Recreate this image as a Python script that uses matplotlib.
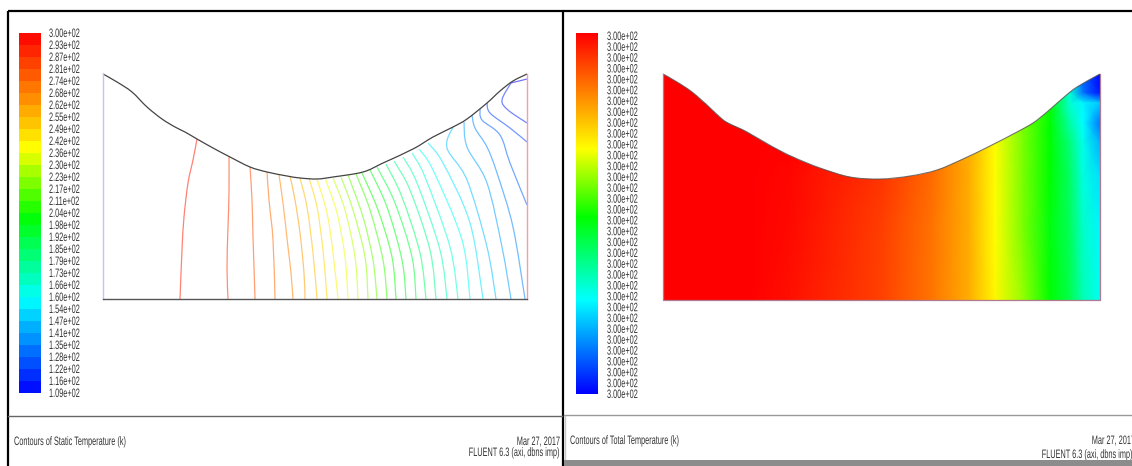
import numpy as np
import matplotlib
matplotlib.use('Agg')
import matplotlib.pyplot as plt
import matplotlib.patheffects as pe
from matplotlib.colors import LinearSegmentedColormap
from matplotlib.path import Path
from matplotlib.patches import PathPatch
from matplotlib.transforms import Affine2D

plt.rcParams['font.family'] = ['Liberation Sans']

# legend labels, left and right panel
static_labels = ['3.00e+02', '2.93e+02', '2.87e+02', '2.81e+02', '2.74e+02', '2.68e+02', '2.62e+02',
                 '2.55e+02', '2.49e+02', '2.42e+02', '2.36e+02', '2.30e+02', '2.23e+02', '2.17e+02',
                 '2.11e+02', '2.04e+02', '1.98e+02', '1.92e+02', '1.85e+02', '1.79e+02', '1.73e+02',
                 '1.66e+02', '1.60e+02', '1.54e+02', '1.47e+02', '1.41e+02', '1.35e+02', '1.28e+02',
                 '1.22e+02', '1.16e+02', '1.09e+02']
total_labels = ['3.00e+02'] * 34

# wall profile, picture pixels
wall_left_x = [103, 117, 132, 147, 162, 175, 185, 197, 213, 230, 250, 267, 287, 300, 317, 333, 363,
               383, 413, 433, 453, 467, 487, 500, 513, 527]
wall_left_y = [74, 82, 92, 107, 119, 127, 132, 139, 148, 157, 167, 172, 176, 178, 179, 177, 172,
               163, 149, 137, 127, 119, 103, 91, 81, 74]
wall_right_x = [663, 677, 692, 707, 722, 730, 747, 773, 793, 820, 850, 880, 910, 937, 963, 990, 1017,
                1033, 1047, 1063, 1077, 1100]
wall_right_y = [74, 82, 92, 105, 119, 124, 132, 147, 157, 168, 177, 179, 176, 170, 159, 146, 132,
                123, 112, 98, 87, 74]

# static temperature contours, one per level below the top one (x, y in picture pixels)
contours = [
    [(197, 139), (193, 160), (188, 183), (184, 217), (182, 250), (180, 299)],
    [(229, 157), (229, 193), (228, 227), (227, 267), (228, 299)],
    [(250, 167), (252, 200), (253, 237), (254, 267), (255, 299)],
    [(267, 172), (269, 200), (273, 240), (275, 299)],
    [(279, 175), (283, 203), (288, 247), (291, 273), (293, 299)],
    [(290, 176), (295, 200), (300, 233), (304, 273), (305, 299)],
    [(300, 178), (307, 207), (313, 253), (317, 299)],
    [(309, 178), (317, 207), (323, 250), (327, 299)],
    [(317, 179), (327, 213), (333, 253), (338, 299)],
    [(325, 178), (337, 213), (345, 257), (348, 299)],
    [(333, 178), (345, 210), (355, 257), (358, 299)],
    [(341, 177), (353, 210), (365, 257), (368, 299)],
    [(348, 175), (363, 217), (373, 260), (377, 299)],
    [(356, 174), (370, 210), (383, 260), (387, 299)],
    [(362, 173), (378, 210), (392, 257), (396, 299)],
    [(370, 170), (387, 207), (402, 260), (406, 299)],
    [(377, 167), (395, 203), (412, 257), (416, 299)],
    [(386, 164), (402, 197), (420, 253), (426, 299)],
    [(394, 161), (410, 190), (430, 250), (436, 299)],
    [(403, 157), (417, 183), (440, 250), (447, 299)],
    [(412, 153), (425, 177), (450, 247), (458, 299)],
    [(419, 149), (433, 170), (462, 240), (470, 299)],
    [(428, 143), (443, 163), (470, 223), (483, 299)],
    [(453, 127), (447, 148), (467, 180), (487, 247), (496, 299)],
    [(464, 122), (467, 147), (487, 183), (502, 247), (511, 299)],
    [(472, 115), (475, 128), (487, 147), (497, 173), (513, 227), (525, 299)],
    [(480, 109), (482, 120), (500, 135), (510, 163), (527, 205)],
    [(487, 103), (490, 113), (510, 128), (527, 142)],
    [(511, 83), (502, 100), (508, 110), (527, 123)],
    [(511, 83), (527, 79)],
]

# total temperature field, colour fraction per station and height
field_x = [663, 750, 790, 883, 933, 970, 995, 1023, 1050, 1070, 1083, 1100]
field_y = [73, 93, 103, 123, 143, 177, 227, 300]
field_t = [
    [1, 1, 1, 1, 1, 1, 1, .60, .49, .30, .10, 0],
    [1, 1, 1, 1, 1, 1, 1, .60, .49, .30, .12, .02],
    [1, 1, 1, .94, .86, .78, .68, .58, .49, .30, .25, .20],
    [1, 1, 1, .94, .86, .78, .68, .58, .49, .34, .26, .12],
    [1, 1, 1, .94, .86, .78, .68, .58, .49, .38, .28, .18],
    [1, 1, .99, .93, .86, .78, .68, .58, .49, .40, .29, .23],
    [1, 1, .985, .92, .855, .78, .68, .58, .48, .41, .31, .25],
    [1, 1, .98, .915, .85, .78, .69, .60, .49, .42, .33, .27],
]

fluent = LinearSegmentedColormap.from_list(
    'fluent', [(0, '#0000ff'), (.26, '#00ffff'), (.49, '#00ff00'), (.68, '#ffff00'), (1, '#ff0000')])


class Squeeze(pe.AbstractPathEffect):
    # the fluent font is very narrow, so scale the glyphs sideways around the anchor
    def __init__(self, x0, sx=0.6):
        super().__init__()
        self.x0 = x0
        self.sx = sx

    def draw_path(self, renderer, gc, tpath, affine, rgbFace=None):
        squeeze = Affine2D().translate(-self.x0, 0).scale(self.sx, 1).translate(self.x0, 0)
        renderer.draw_path(gc, tpath, affine + squeeze, rgbFace)


def put_text(x, y, s, ha='left', size=8.8):
    ax.text(x, y, s, fontsize=size, color='#333333', va='center', ha=ha,
            path_effects=[Squeeze(x)])


def smooth_path(xs, ys):
    # catmull-rom through the read points
    p = np.column_stack([xs, ys]).astype(float)
    verts = [p[0]]
    codes = [Path.MOVETO]
    for i in range(len(p) - 1):
        p0, p1, p2, p3 = p[max(i - 1, 0)], p[i], p[i + 1], p[min(i + 2, len(p) - 1)]
        verts += [p1 + (p2 - p0) / 6, p2 - (p3 - p1) / 6, p2]
        codes += [Path.CURVE4] * 3
    return verts, codes


def draw_curve(xs, ys, **kw):
    verts, codes = smooth_path(xs, ys)
    ax.add_patch(PathPatch(Path(verts, codes), fill=False, **kw))


fig = plt.figure(figsize=(11.32, 4.66), dpi=100)
ax = fig.add_axes([0, 0, 1, 1])
ax.axis('off')

# colour bars
n_bands = len(static_labels) - 1
bands = (np.arange(n_bands)[::-1] + .5) / n_bands
ax.imshow(bands[:, None], extent=(18.5, 40, 393, 33), cmap=fluent, vmin=0, vmax=1, aspect='auto',
          interpolation='nearest')
ax.imshow(np.linspace(1, 0, 256)[:, None], extent=(575.5, 597, 394, 33), cmap=fluent, vmin=0, vmax=1,
          aspect='auto', interpolation='bilinear')
ax.set_xlim(0, 1132)
ax.set_ylim(466, 0)

for lab, y in zip(static_labels, np.linspace(34, 394, len(static_labels))):
    put_text(49, y, lab)
for lab, y in zip(total_labels, np.linspace(37, 395, len(total_labels))):
    put_text(607, y, lab)

# left panel, contour lines
level_t = [float(s) for s in static_labels]
for line, t in zip(contours, level_t[1:]):
    xs, ys = zip(*line)
    frac = (t - level_t[-1]) / (level_t[0] - level_t[-1])
    draw_curve(xs, ys, edgecolor=fluent(frac), lw=0.9, alpha=0.55)

ax.plot([103, 103], [74, 299], color='#c4c4f2', lw=1)
ax.plot([527, 527], [74, 299], color='#f0a0a8', lw=1)
ax.plot([103, 527], [299, 299], color='#555555', lw=1)
draw_curve(wall_left_x, wall_left_y, edgecolor='#444444', lw=0.9)

# right panel, filled field cut to the wall shape
mesh = ax.pcolormesh(field_x, field_y, np.array(field_t), cmap=fluent, vmin=0, vmax=1, shading='gouraud')
verts, codes = smooth_path(wall_right_x, wall_right_y)
clip_path = Path(verts + [(1100, 300), (663, 300), (663, 74)], codes + [Path.LINETO] * 3)
mesh.set_clip_path(clip_path, ax.transData)
draw_curve(wall_right_x, wall_right_y, edgecolor='#555555', lw=0.8, alpha=0.8)
ax.plot([663, 663, 1100, 1100], [74, 300, 300, 74], color='#b07a90', lw=0.9)

# frame
ax.plot([8, 1132], [11, 11], color='black', lw=1.6, solid_capstyle='butt')
ax.plot([8, 8], [11, 466], color='black', lw=1.6, solid_capstyle='butt')
ax.plot([562.5, 562.5], [11, 466], color='black', lw=1.6, solid_capstyle='butt')
ax.plot([8, 562], [416, 416], color='#666666', lw=1)
ax.plot([564, 1132], [415, 415], color='#999999', lw=1)
ax.plot([564.5, 564.5], [416, 466], color='#c8c8c8', lw=1)

# footer
put_text(14, 442, 'Contours of Static Temperature (k)')
put_text(560, 442, 'Mar 27, 2017', ha='right')
put_text(560, 453, 'FLUENT 6.3 (axi, dbns imp)', ha='right')
put_text(570, 441, 'Contours of Total Temperature (k)')
put_text(1135, 441, 'Mar 27, 2017', ha='right')
put_text(1133, 455, 'FLUENT 6.3 (axi, dbns imp)', ha='right')
ax.fill_between([564, 1132], 460, 466, color='#8c8c8c', lw=0, zorder=5)

fig.savefig('out.png', dpi=100)
